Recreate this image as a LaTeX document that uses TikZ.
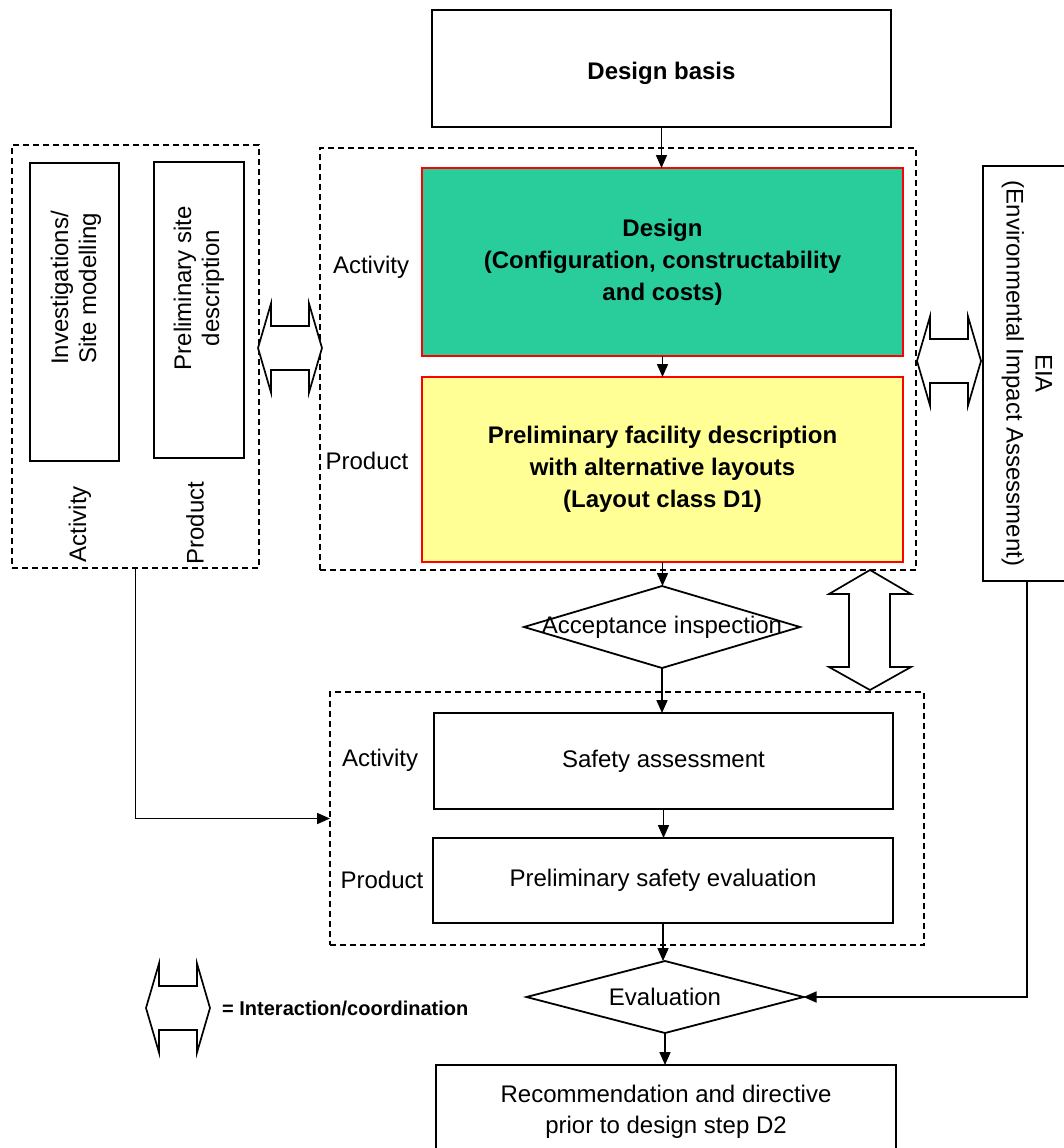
\documentclass[tikz,border=0pt]{standalone}
\usepackage{fontspec}
\setmainfont{Liberation Sans}
\usetikzlibrary{arrows.meta,shapes.geometric}
\definecolor{designgreen}{RGB}{40,205,155}
\definecolor{facyellow}{RGB}{255,255,150}
\begin{document}
\begin{tikzpicture}[x=1pt,y=-1pt,
  every node/.style={font=\fontsize{24}{31}\selectfont},
  box/.style={draw, line width=1.8pt, inner sep=0pt, outer sep=0pt, align=center},
  colbox/.style={box, draw=red, line width=1.5pt, font=\fontsize{24}{32}\selectfont\bfseries},
  grp/.style={draw, dash pattern=on 6pt off 4pt, line width=1.5pt, inner sep=0pt, outer sep=0pt},
  dia/.style={draw, diamond, line width=1.8pt, inner sep=0pt, outer sep=0pt},
  arr/.style={line width=1.7pt, -{Triangle[length=13pt,width=11pt]}},
  lbl/.style={inner sep=0pt, align=center},
  dblarrow/.style={draw, line width=1.7pt, fill=white, line join=miter},
  hdbl/.pic={\draw[dblarrow] (-32,0) -- (-19,-44.5) -- (-19,-22) -- (19,-22)
     -- (19,-44.5) -- (32,0) -- (19,44.5) -- (19,22) -- (-19,22)
     -- (-19,44.5) -- cycle;}
]
\useasboundingbox (0,0) rectangle (1064,1148);
\clip (0,0) rectangle (1064,1148);

% grouping frames
\node[grp, minimum width=247pt, minimum height=423pt] (leftgrp) at (135.5,356.5) {};
\node[grp, minimum width=596pt, minimum height=422pt] (topgrp) at (618,359) {};
\node[grp, minimum width=594pt, minimum height=253pt] (lowgrp) at (627,818.5) {};

% site investigation column
\node[box, minimum width=89pt, minimum height=298pt] (inv) at (74.5,312) {};
\node[lbl, rotate=90, font=\fontsize{24}{28}\selectfont] (invtxt) at (76,288) {Investigations/\\Site modelling};
\node[box, minimum width=90pt, minimum height=296pt] (psd) at (199,310) {};
\node[lbl, rotate=90, font=\fontsize{24}{28}\selectfont] (psdtxt) at (199,288) {Preliminary site\\description};
\node[lbl, rotate=90] (lact) at (80,524) {Activity};
\node[lbl, rotate=90] (lprod) at (195,523) {Product};

% design chain
\node[box, minimum width=459pt, minimum height=117pt] (basis) at (661.5,68.5) {};
\node[lbl, font=\fontsize{24}{31}\selectfont\bfseries] (basistxt) at (661.5,73) {Design basis};
\node[colbox, fill=designgreen, minimum width=481pt, minimum height=188pt] (design) at (662.5,262)
  {Design\\(Configuration, constructability\\and costs)};
\node[colbox, fill=facyellow, minimum width=481pt, minimum height=185pt] (facility) at (662.5,469.5)
  {Preliminary facility description\\with alternative layouts\\(Layout class D1)};
\node[lbl] (tact) at (371,267) {Activity};
\node[lbl] (tprod) at (367,461) {Product};

% environmental impact assessment
\node[box, minimum width=88pt, minimum height=415pt] (eia) at (1027,373.5) {};
\node[lbl, rotate=-90, font=\fontsize{24}{29}\selectfont] (eiatxt) at (eia) {EIA\\(Environmental Impact Assessment)};

% acceptance inspection
\node[dia, minimum width=276pt, minimum height=82pt] (accept) at (662,627) {};
\node[lbl] (accepttxt) at (accept) {Acceptance inspection};

% safety assessment
\node[box, minimum width=459pt, minimum height=96pt] (safety) at (663.5,761) {Safety assessment};
\node[box, minimum width=460pt, minimum height=85pt] (pse) at (663,880.5) {Preliminary safety evaluation};
\node[lbl] (sact) at (380,760) {Activity};
\node[lbl] (sprod) at (382,880) {Product};

% evaluation and outcome
\node[dia, minimum width=277pt, minimum height=72pt] (eval) at (665,997) {};
\node[lbl] (evaltxt) at (eval) {Evaluation};
\node[box, minimum width=460pt, minimum height=94pt] (rec) at (666,1112)
  {Recommendation and directive\\prior to design step D2};

% flow connectors
\draw[arr] (basis.south) -- (basis.south |- design.north);
\draw[arr] (design.south) -- (design.south |- facility.north);
\draw[arr] (facility.south) -- (facility.south |- accept.north);
\draw[arr] (accept.south) -- (accept.south |- safety.north);
\draw[arr] (safety.south) -- (safety.south |- pse.north);
\draw[arr] (pse.south) -- (pse.south |- eval.north);
\draw[arr] (eval.south) -- (eval.south |- rec.north);
\draw[arr] (leftgrp.south) |- (lowgrp.west);
\draw[arr] (eia.south) |- (eval.east);

% interaction / coordination arrows
\pic at (290,348) {hdbl};
\pic at (949,361) {hdbl};
\draw[dblarrow] (870,570) -- (911,594) -- (890,594) -- (890,667) -- (911,667)
  -- (870,690) -- (829,667) -- (849,667) -- (849,594) -- (829,594) -- cycle;

% legend
\pic at (178,1008) {hdbl};
\node[lbl, anchor=west, font=\fontsize{20}{24}\selectfont\bfseries] (legtxt) at (222,1008) {= Interaction/coordination};
\end{tikzpicture}
\end{document}
